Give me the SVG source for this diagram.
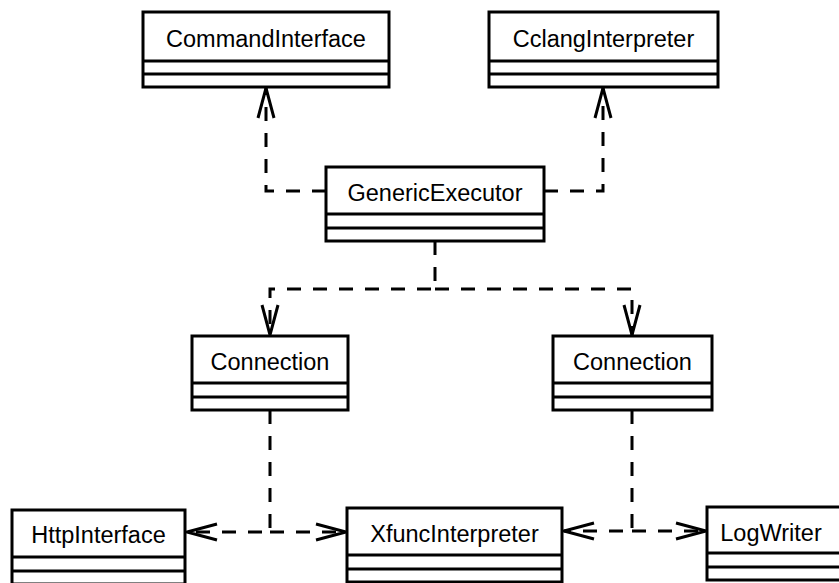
<svg xmlns="http://www.w3.org/2000/svg" width="839" height="583" viewBox="0 0 839 583">
  <style>
    .box { fill: #ffffff; stroke: #000000; stroke-width: 3; }
    .sep { stroke: #000000; stroke-width: 3; fill: none; }
    .label { font-family: "Liberation Sans", Arial, sans-serif; font-size: 23.5px; fill: #000000; text-anchor: middle; }
    .dep { fill: none; stroke: #000000; stroke-width: 3; stroke-dasharray: 14 12; }
  </style>
  <defs>
    <!-- open arrowhead used for dependency ends -->
    <marker id="open-arrow" markerUnits="userSpaceOnUse" markerWidth="36" markerHeight="24"
            viewBox="-33 -12 36 24" refX="0" refY="0" orient="auto" overflow="visible">
      <path d="M-30,-8 L0,0 L-30,8" fill="none" stroke="#000000" stroke-width="3" stroke-linejoin="miter"/>
    </marker>
  </defs>

  <rect width="839" height="583" fill="#ffffff"/>

  <!-- dependency connectors -->
  <g id="connectors">
    <path class="dep" d="M326,191 H266 V88" marker-end="url(#open-arrow)"/>
    <path class="dep" d="M544,191 H603 V88" marker-end="url(#open-arrow)"/>
    <path class="dep" d="M435,241 V289 H270 V335" marker-end="url(#open-arrow)"/>
    <path class="dep" d="M435,289 H632 V335" marker-end="url(#open-arrow)"/>
    <path class="dep" d="M270,410 V532 H187" marker-end="url(#open-arrow)"/>
    <path class="dep" d="M270,532 H346" marker-end="url(#open-arrow)"/>
    <path class="dep" d="M632,410 V531 H564" marker-end="url(#open-arrow)"/>
    <path class="dep" d="M632,531 H706" marker-end="url(#open-arrow)"/>
  </g>

  <g id="CommandInterface">
    <rect class="box" x="143" y="12" width="246" height="75"/>
    <line class="sep" x1="143" y1="61" x2="389" y2="61"/>
    <line class="sep" x1="143" y1="74" x2="389" y2="74"/>
    <text class="label" x="266" y="47">CommandInterface</text>
  </g>

  <g id="CclangInterpreter">
    <rect class="box" x="489" y="12" width="229" height="75"/>
    <line class="sep" x1="489" y1="61" x2="718" y2="61"/>
    <line class="sep" x1="489" y1="74" x2="718" y2="74"/>
    <text class="label" x="603.5" y="47">CclangInterpreter</text>
  </g>

  <g id="GenericExecutor">
    <rect class="box" x="326" y="167" width="218" height="74"/>
    <line class="sep" x1="326" y1="214" x2="544" y2="214"/>
    <line class="sep" x1="326" y1="228" x2="544" y2="228"/>
    <text class="label" x="435" y="201">GenericExecutor</text>
  </g>

  <g id="ConnectionLeft">
    <rect class="box" x="192" y="336" width="156" height="74"/>
    <line class="sep" x1="192" y1="383" x2="348" y2="383"/>
    <line class="sep" x1="192" y1="397" x2="348" y2="397"/>
    <text class="label" x="270" y="370">Connection</text>
  </g>

  <g id="ConnectionRight">
    <rect class="box" x="553" y="336" width="159" height="74"/>
    <line class="sep" x1="553" y1="383" x2="712" y2="383"/>
    <line class="sep" x1="553" y1="397" x2="712" y2="397"/>
    <text class="label" x="632.5" y="370">Connection</text>
  </g>

  <g id="HttpInterface">
    <rect class="box" x="12" y="510" width="173" height="74"/>
    <line class="sep" x1="12" y1="557" x2="185" y2="557"/>
    <line class="sep" x1="12" y1="571" x2="185" y2="571"/>
    <text class="label" x="98.5" y="543">HttpInterface</text>
  </g>

  <g id="XfuncInterpreter">
    <rect class="box" x="347" y="508" width="215" height="74"/>
    <line class="sep" x1="347" y1="555" x2="562" y2="555"/>
    <line class="sep" x1="347" y1="569" x2="562" y2="569"/>
    <text class="label" x="454.5" y="542">XfuncInterpreter</text>
  </g>

  <g id="LogWriter">
    <rect class="box" x="707" y="507" width="140" height="73"/>
    <line class="sep" x1="707" y1="553" x2="847" y2="553"/>
    <line class="sep" x1="707" y1="567" x2="847" y2="567"/>
    <text class="label" x="771" y="541">LogWriter</text>
  </g>
</svg>
